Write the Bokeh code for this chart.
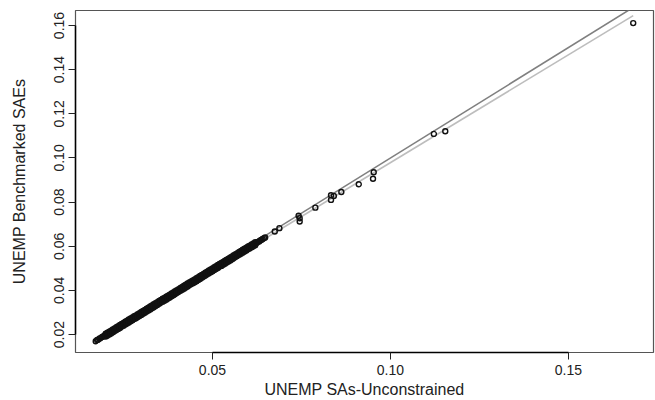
from bokeh.plotting import figure
from bokeh.models import Range1d, FixedTicker, PrintfTickFormatter
from bokeh.embed import file_html
from bokeh.resources import INLINE

# Small-area estimates: unconstrained (x) vs benchmarked (y) unemployment rates
# main dense band of areas
band_x = [0.0172, 0.0176, 0.0179, 0.0183, 0.0186, 0.0190, 0.0193, 0.0197, 0.0200, 0.0204,
          0.0207, 0.0211, 0.0214, 0.0218, 0.0221, 0.0225, 0.0228, 0.0232, 0.0235, 0.0239,
          0.0242, 0.0246, 0.0249, 0.0253, 0.0256, 0.0260, 0.0263, 0.0267, 0.0270, 0.0274,
          0.0277, 0.0281, 0.0284, 0.0288, 0.0291, 0.0295, 0.0298, 0.0302, 0.0305, 0.0309,
          0.0312, 0.0316, 0.0319, 0.0323, 0.0326, 0.0330, 0.0333, 0.0337, 0.0340, 0.0344,
          0.0347, 0.0351, 0.0354, 0.0358, 0.0361, 0.0365, 0.0368, 0.0372, 0.0375, 0.0379,
          0.0382, 0.0386, 0.0389, 0.0393, 0.0396, 0.0400, 0.0403, 0.0407, 0.0410, 0.0414,
          0.0417, 0.0421, 0.0424, 0.0428, 0.0431, 0.0435, 0.0438, 0.0442, 0.0445, 0.0449,
          0.0452, 0.0456, 0.0459, 0.0463, 0.0466, 0.0470, 0.0473, 0.0477, 0.0480, 0.0484,
          0.0487, 0.0491, 0.0494, 0.0498, 0.0501, 0.0505, 0.0508, 0.0512, 0.0515, 0.0519,
          0.0522, 0.0526, 0.0529, 0.0533, 0.0536, 0.0540, 0.0543, 0.0547, 0.0550, 0.0554,
          0.0557, 0.0561, 0.0564, 0.0568, 0.0571, 0.0575, 0.0578, 0.0582, 0.0585, 0.0589,
          0.0592, 0.0596, 0.0599, 0.0603, 0.0606, 0.0610, 0.0613, 0.0617, 0.0620, 0.0624,
          0.0627, 0.0631, 0.0634, 0.0638, 0.0641, 0.0645, 0.0648]
band_y = [0.0170, 0.0175, 0.0177, 0.0182, 0.0184, 0.0189, 0.0191, 0.0196, 0.0198, 0.0202,
          0.0206, 0.0209, 0.0213, 0.0216, 0.0219, 0.0224, 0.0226, 0.0230, 0.0234, 0.0236,
          0.0241, 0.0244, 0.0247, 0.0252, 0.0253, 0.0258, 0.0261, 0.0264, 0.0268, 0.0271,
          0.0275, 0.0278, 0.0282, 0.0285, 0.0289, 0.0292, 0.0296, 0.0299, 0.0302, 0.0306,
          0.0310, 0.0312, 0.0317, 0.0319, 0.0323, 0.0327, 0.0330, 0.0333, 0.0337, 0.0340,
          0.0344, 0.0347, 0.0351, 0.0354, 0.0357, 0.0361, 0.0364, 0.0368, 0.0371, 0.0374,
          0.0378, 0.0381, 0.0385, 0.0388, 0.0392, 0.0395, 0.0399, 0.0402, 0.0405, 0.0409,
          0.0412, 0.0416, 0.0419, 0.0422, 0.0426, 0.0429, 0.0433, 0.0436, 0.0440, 0.0443,
          0.0446, 0.0450, 0.0454, 0.0457, 0.0460, 0.0464, 0.0467, 0.0471, 0.0474, 0.0478,
          0.0481, 0.0485, 0.0488, 0.0491, 0.0495, 0.0498, 0.0502, 0.0505, 0.0509, 0.0512,
          0.0516, 0.0519, 0.0522, 0.0526, 0.0529, 0.0533, 0.0536, 0.0540, 0.0543, 0.0547,
          0.0550, 0.0553, 0.0557, 0.0560, 0.0564, 0.0567, 0.0571, 0.0574, 0.0578, 0.0581,
          0.0584, 0.0588, 0.0591, 0.0595, 0.0598, 0.0602, 0.0605, 0.0609, 0.0612, 0.0615,
          0.0619, 0.0622, 0.0626, 0.0630, 0.0633, 0.0637, 0.0640]

# areas just above and just below the main band
side_x = [0.0200, 0.0205, 0.0210, 0.0215, 0.0220, 0.0225, 0.0230, 0.0235, 0.0240, 0.0245,
          0.0250, 0.0255, 0.0260, 0.0265, 0.0270, 0.0275, 0.0280, 0.0285, 0.0290, 0.0295,
          0.0300, 0.0305, 0.0310, 0.0315, 0.0320, 0.0325, 0.0330, 0.0335, 0.0340, 0.0345,
          0.0350, 0.0355, 0.0360, 0.0365, 0.0370, 0.0375, 0.0380, 0.0385, 0.0390, 0.0395,
          0.0400, 0.0405, 0.0410, 0.0415, 0.0420, 0.0425, 0.0430, 0.0435, 0.0440, 0.0445,
          0.0450, 0.0455, 0.0460, 0.0465, 0.0470, 0.0475, 0.0480, 0.0485, 0.0490, 0.0495,
          0.0500, 0.0505, 0.0510, 0.0515, 0.0520, 0.0525, 0.0530, 0.0535, 0.0540, 0.0545,
          0.0550, 0.0555, 0.0560, 0.0565, 0.0570, 0.0575, 0.0580, 0.0585, 0.0590, 0.0595,
          0.0600, 0.0605, 0.0610, 0.0615, 0.0620]
upper_y = [0.0204, 0.0208, 0.0213, 0.0218, 0.0223, 0.0228, 0.0233, 0.0238, 0.0243, 0.0248,
           0.0253, 0.0258, 0.0263, 0.0268, 0.0273, 0.0278, 0.0283, 0.0287, 0.0292, 0.0297,
           0.0302, 0.0307, 0.0312, 0.0317, 0.0322, 0.0327, 0.0332, 0.0337, 0.0342, 0.0347,
           0.0352, 0.0357, 0.0362, 0.0366, 0.0371, 0.0376, 0.0381, 0.0386, 0.0391, 0.0396,
           0.0401, 0.0406, 0.0411, 0.0416, 0.0421, 0.0426, 0.0431, 0.0436, 0.0441, 0.0445,
           0.0450, 0.0455, 0.0460, 0.0465, 0.0470, 0.0475, 0.0480, 0.0485, 0.0490, 0.0495,
           0.0500, 0.0505, 0.0510, 0.0515, 0.0520, 0.0524, 0.0529, 0.0534, 0.0539, 0.0544,
           0.0549, 0.0554, 0.0559, 0.0564, 0.0569, 0.0574, 0.0579, 0.0584, 0.0589, 0.0594,
           0.0599, 0.0603, 0.0608, 0.0613, 0.0618]
lower_y = [0.0191, 0.0195, 0.0200, 0.0205, 0.0210, 0.0215, 0.0220, 0.0225, 0.0230, 0.0235,
           0.0240, 0.0245, 0.0250, 0.0255, 0.0260, 0.0265, 0.0270, 0.0274, 0.0279, 0.0284,
           0.0289, 0.0294, 0.0299, 0.0304, 0.0309, 0.0314, 0.0319, 0.0324, 0.0329, 0.0334,
           0.0339, 0.0344, 0.0349, 0.0353, 0.0358, 0.0363, 0.0368, 0.0373, 0.0378, 0.0383,
           0.0388, 0.0393, 0.0398, 0.0403, 0.0408, 0.0413, 0.0418, 0.0423, 0.0428, 0.0432,
           0.0437, 0.0442, 0.0447, 0.0452, 0.0457, 0.0462, 0.0467, 0.0472, 0.0477, 0.0482,
           0.0487, 0.0492, 0.0497, 0.0502, 0.0507, 0.0511, 0.0516, 0.0521, 0.0526, 0.0531,
           0.0536, 0.0541, 0.0546, 0.0551, 0.0556, 0.0561, 0.0566, 0.0571, 0.0576, 0.0581,
           0.0586, 0.0590, 0.0595, 0.0600, 0.0605]

# sparse high-unemployment areas
high_x = [0.0675, 0.0688, 0.0742, 0.0745, 0.0745, 0.0789, 0.0833, 0.0841, 0.0833, 0.0862,
          0.0911, 0.0953, 0.0951, 0.1122, 0.1154, 0.1682]
high_y = [0.0667, 0.0682, 0.0738, 0.0727, 0.0712, 0.0775, 0.0831, 0.0828, 0.0810, 0.0846,
          0.0881, 0.0935, 0.0906, 0.1109, 0.1121, 0.1611]

# reference lines: identity and fitted line, drawn across the data extent
identity_x = [0.0172, 0.1682]
identity_y = [0.0172, 0.1682]
fit_x = [0.0172, 0.1682]
fit_y = [0.0170, 0.1645]

x_ticks = [0.05, 0.10, 0.15]
y_ticks = [0.02, 0.04, 0.06, 0.08, 0.10, 0.12, 0.14, 0.16]

FONT = "Liberation Sans"

p = figure(width=655, height=400, output_backend="svg", toolbar_location=None,
           x_range=Range1d(0.01152, 0.1739), y_range=Range1d(0.01187, 0.1668),
           min_border_left=75, min_border_right=2, min_border_top=10, min_border_bottom=47)
p.background_fill_color = "white"
p.border_fill_color = "white"
p.outline_line_color = "#555555"
p.outline_line_width = 1.2
p.xgrid.visible = False
p.ygrid.visible = False

p.line(identity_x, identity_y, line_color="#808080", line_width=1.6)
p.line(fit_x, fit_y, line_color="#bdbdbd", line_width=1.6)

all_x = band_x + side_x + side_x + high_x
all_y = band_y + upper_y + lower_y + high_y
p.scatter(all_x, all_y, marker="circle", size=5, fill_color=None,
          line_color="#111111", line_width=1.4)

for ax, ticks, bounds in ((p.xaxis[0], x_ticks, (0.05, 0.15)), (p.yaxis[0], y_ticks, (0.02, 0.16))):
    ax.ticker = FixedTicker(ticks=ticks)
    ax.formatter = PrintfTickFormatter(format="%.2f")
    ax.bounds = bounds
    ax.minor_tick_line_color = None
    ax.major_tick_out = 7
    ax.major_tick_in = 0
    ax.axis_line_color = "black"
    ax.axis_line_width = 1.5
    ax.major_tick_line_color = "#222222"
    ax.major_tick_line_width = 1
    ax.major_label_text_font = FONT
    ax.major_label_text_font_size = "14px"
    ax.major_label_text_color = "#222222"
    ax.axis_label_text_font = FONT
    ax.axis_label_text_font_size = "16px"
    ax.axis_label_text_font_style = "normal"
    ax.axis_label_text_color = "#222222"

p.xaxis.axis_label = "UNEMP SAs-Unconstrained"
p.yaxis.axis_label = "UNEMP Benchmarked SAEs"
p.yaxis.major_label_orientation = "vertical"
p.xaxis.major_label_standoff = 5
p.yaxis.major_label_standoff = 4
p.xaxis.axis_label_standoff = 3
p.yaxis.axis_label_standoff = 24

open("out.html", "w").write(file_html(p, INLINE))
